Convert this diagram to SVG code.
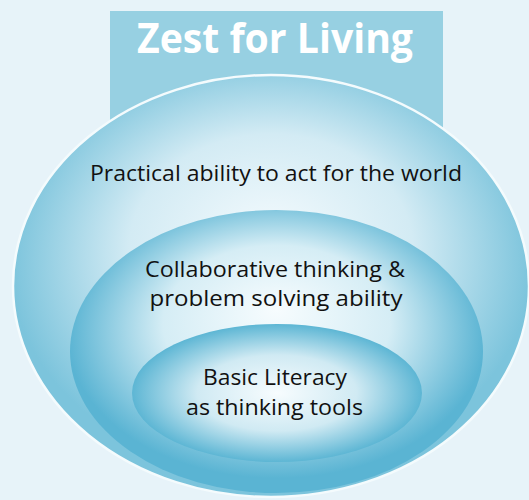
<svg xmlns="http://www.w3.org/2000/svg" width="529" height="500" viewBox="0 0 529 500">
<defs>
<radialGradient id="gOuter" cx="0.5" cy="0.45" r="0.55" fx="0.5" fy="0.38">
<stop offset="0" stop-color="#f3fafd"/>
<stop offset="0.5" stop-color="#d3ebf4"/>
<stop offset="0.92" stop-color="#7cc4dc"/>
</radialGradient>
<radialGradient id="gMid" cx="0.5" cy="0.45" r="0.55" fx="0.5" fy="0.35">
<stop offset="0" stop-color="#f7fcfe"/>
<stop offset="0.5" stop-color="#d5edf5"/>
<stop offset="0.92" stop-color="#5ab4d3"/>
</radialGradient>
<radialGradient id="gInner" cx="0.5" cy="0.5" r="0.5">
<stop offset="0" stop-color="#f7fcfe"/>
<stop offset="0.55" stop-color="#d0eaf3"/>
<stop offset="1" stop-color="#5db6d4"/>
</radialGradient>
</defs>
<style>
.lbl{font-family:"Open Sans","Liberation Sans",sans-serif;font-size:21px;fill:#111;text-anchor:middle}
.title{font-family:"Open Sans","Liberation Sans",sans-serif;font-size:42px;font-weight:700;fill:#ffffff;text-anchor:middle}
</style>
<rect width="529" height="500" fill="#e7f3f9"/>
<g id="title">
<rect x="110" y="11" width="333" height="120" fill="#97d0e2"/>
<text class="title" x="275" y="53" textLength="276" lengthAdjust="spacingAndGlyphs">Zest for Living</text>
</g>
<g id="outer">
<ellipse cx="271" cy="286" rx="258" ry="211" fill="url(#gOuter)" stroke="#f4fbfd" stroke-width="2.5"/>
<text class="lbl" x="276" y="181" textLength="372" lengthAdjust="spacingAndGlyphs">Practical ability to act for the world</text>
</g>
<g id="middle">
<ellipse cx="276.5" cy="351.5" rx="206.5" ry="141.5" fill="url(#gMid)"/>
<text class="lbl" x="275" y="277" textLength="260" lengthAdjust="spacingAndGlyphs">Collaborative thinking &amp;</text>
<text class="lbl" x="276" y="306" textLength="253" lengthAdjust="spacingAndGlyphs">problem solving ability</text>
</g>
<g id="inner">
<ellipse cx="277" cy="393" rx="145" ry="69" fill="url(#gInner)"/>
<text class="lbl" x="275" y="385" textLength="144" lengthAdjust="spacingAndGlyphs">Basic Literacy</text>
<text class="lbl" x="274.5" y="415" textLength="177" lengthAdjust="spacingAndGlyphs">as thinking tools</text>
</g>
<g id="connectors"/>
</svg>
